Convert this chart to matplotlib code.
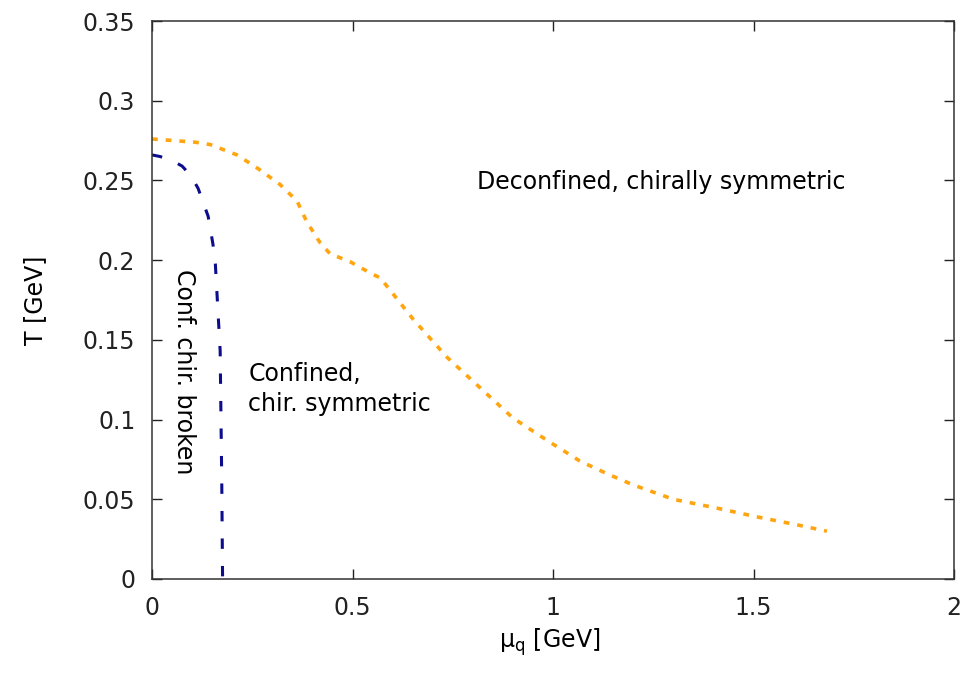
import matplotlib
matplotlib.use("Agg")
import matplotlib.pyplot as plt

plt.rcParams['font.family'] = ['DejaVu Sans']

# orange curve: deconfinement line
mu_deconf = [0.0, 0.107, 0.145, 0.212, 0.264, 0.319, 0.362, 0.386, 0.419, 0.444,
             0.494, 0.551, 0.569, 0.651, 0.736, 0.818, 0.900, 0.985, 1.067,
             1.135, 1.2, 1.3, 1.408, 1.508, 1.608, 1.683]
T_deconf = [0.276, 0.274, 0.2725, 0.266, 0.2575, 0.2475, 0.237, 0.224, 0.211, 0.204,
            0.199, 0.191, 0.189, 0.163, 0.139, 0.12, 0.101, 0.087, 0.074,
            0.066, 0.059, 0.050, 0.0445, 0.039, 0.034, 0.030]

# blue curve: chiral transition line
mu_chiral = [0.0, 0.02, 0.05, 0.075, 0.097, 0.115, 0.14, 0.152, 0.158, 0.17, 0.174, 0.176]
T_chiral = [0.266, 0.265, 0.2625, 0.259, 0.253, 0.245, 0.2275, 0.21, 0.1975, 0.143, 0.06, 0.0]

fs = 17

fig = plt.figure(figsize=(9.69, 6.76), dpi=100)
ax = fig.add_axes([152/969, 1-579/676, (954-152)/969, (579-21)/676])

ax.plot(mu_deconf, T_deconf, color='#ffa510', lw=2.6, dashes=(1.6, 2.2))
ax.plot(mu_chiral, T_chiral, color='#0c0c8c', lw=2.2, dashes=(3.4, 5.6))

ax.set_xlim(0, 2)
ax.set_ylim(0, 0.35)
ax.set_xticks([0, 0.5, 1, 1.5, 2])
ax.set_xticklabels(['0', '0.5', '1', '1.5', '2'])
ax.set_yticks([0, 0.05, 0.1, 0.15, 0.2, 0.25, 0.3, 0.35])
ax.set_yticklabels(['0', '0.05', '0.1', '0.15', '0.2', '0.25', '0.3', '0.35'])
ax.tick_params(direction='in', length=7, width=1, top=True, right=True,
               labelsize=fs, pad=12, colors='#222222')
for s in ax.spines.values():
    s.set_color('#333333')
    s.set_linewidth(1.1)

ax.set_xlabel(r'$\mathregular{\mu_q}$ [GeV]', fontsize=fs)
ax.set_ylabel('T [GeV]', fontsize=fs)
ax.xaxis.set_label_coords(0.496, -0.085)
ax.yaxis.set_label_coords(-0.131, 0.5)

ax.text(1.27, 0.249, 'Deconfined, chirally symmetric', fontsize=fs,
        ha='center', va='center')
ax.text(0.24, 0.119, 'Confined,\nchir. symmetric', fontsize=fs,
        ha='left', va='center', linespacing=1.3)
ax.text(0.079, 0.13, 'Conf. chir. broken', fontsize=fs, rotation=-90,
        ha='center', va='center')

fig.savefig('out.png', dpi=100)
